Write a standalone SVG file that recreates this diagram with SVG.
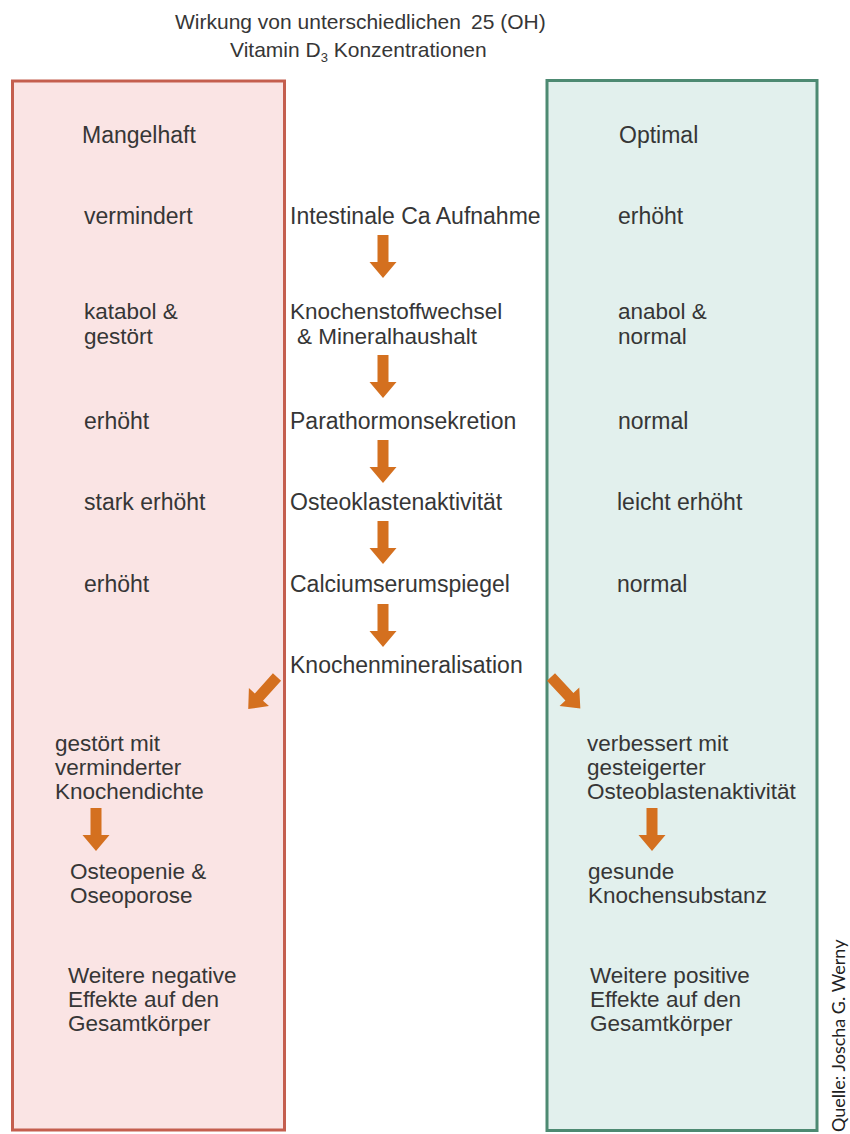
<svg xmlns="http://www.w3.org/2000/svg" xmlns:xlink="http://www.w3.org/1999/xlink" width="850" height="1134" viewBox="0 0 850 1134">
<style>
text{font-family:"Liberation Sans",Arial,sans-serif;fill:#363636;}
.t{font-size:23px;}
.m{font-size:22.5px;}
.h{font-size:21px;}
.src{font-family:Lato,"Open Sans",sans-serif;font-size:18px;fill:#222;}
.arr{fill:#d4701f;}
</style>
<defs>
<path id="down" d="M-5.5,0 H5.5 V27 H13.5 L0,43 L-13.5,27 H-5.5 Z"/>
</defs>
<rect width="850" height="1134" fill="#ffffff"/>
<g id="title">
<text class="h" x="175" y="29">Wirkung von unterschiedlichen</text>
<text class="h" x="471" y="29">25 (OH)</text>
<text class="h" x="230" y="57">Vitamin D<tspan font-size="13" dy="5">3</tspan><tspan dy="-5"> Konzentrationen</tspan></text>
</g>
<g id="box-mangelhaft">
<rect x="12.5" y="81" width="272" height="1049" fill="#fae4e4" stroke="#c45e4e" stroke-width="3"/>
</g>
<g id="box-optimal">
<rect x="547" y="80.5" width="270" height="1050" fill="#e2f0ed" stroke="#4d8a72" stroke-width="3"/>
</g>
<g id="left-column">
<text class="t" x="82" y="143">Mangelhaft</text>
<text class="t" x="84" y="224">vermindert</text>
<text class="m" x="84" y="319">katabol &amp;</text>
<text class="m" x="84" y="344">gestört</text>
<text class="t" x="84" y="429">erhöht</text>
<text class="t" x="84" y="510">stark erhöht</text>
<text class="t" x="84" y="592">erhöht</text>
</g>
<g id="right-column">
<text class="t" x="619" y="143">Optimal</text>
<text class="t" x="618" y="224">erhöht</text>
<text class="m" x="618" y="319">anabol &amp;</text>
<text class="m" x="618" y="344">normal</text>
<text class="t" x="618" y="429">normal</text>
<text class="t" x="617" y="510">leicht erhöht</text>
<text class="t" x="617" y="592">normal</text>
</g>
<g id="center-column">
<text class="t" x="290" y="224">Intestinale Ca Aufnahme</text>
<text class="m" x="290" y="319">Knochenstoffwechsel</text>
<text class="m" x="297" y="344">&amp; Mineralhaushalt</text>
<text class="t" x="290" y="429">Parathormonsekretion</text>
<text class="t" x="290" y="510">Osteoklastenaktivität</text>
<text class="t" x="290" y="592">Calciumserumspiegel</text>
<text class="t" x="290" y="673">Knochenmineralisation</text>
</g>
<g id="left-outcome">
<text class="m" x="55" y="751">gestört mit</text>
<text class="m" x="55" y="775">verminderter</text>
<text class="m" x="55" y="799">Knochendichte</text>
<text class="m" x="70" y="879">Osteopenie &amp;</text>
<text class="m" x="70" y="903">Oseoporose</text>
<text class="m" x="68" y="983">Weitere negative</text>
<text class="m" x="68" y="1007">Effekte auf den</text>
<text class="m" x="68" y="1031">Gesamtkörper</text>
</g>
<g id="right-outcome">
<text class="m" x="587" y="751">verbessert mit</text>
<text class="m" x="587" y="775">gesteigerter</text>
<text class="m" x="587" y="799">Osteoblastenaktivität</text>
<text class="m" x="588" y="879">gesunde</text>
<text class="m" x="588" y="903">Knochensubstanz</text>
<text class="m" x="590" y="983">Weitere positive</text>
<text class="m" x="590" y="1007">Effekte auf den</text>
<text class="m" x="590" y="1031">Gesamtkörper</text>
</g>
<g id="connectors" class="arr">
<use xlink:href="#down" transform="translate(383,235)"/>
<use xlink:href="#down" transform="translate(383,355)"/>
<use xlink:href="#down" transform="translate(383,440)"/>
<use xlink:href="#down" transform="translate(383,521)"/>
<use xlink:href="#down" transform="translate(383,604)"/>
<use xlink:href="#down" transform="translate(277,677) rotate(42)"/>
<use xlink:href="#down" transform="translate(551,677) rotate(-43)"/>
<use xlink:href="#down" transform="translate(96,808)"/>
<use xlink:href="#down" transform="translate(652,808)"/>
</g>
<g id="source">
<text class="src" transform="translate(845,1132) rotate(-90)">Quelle: Joscha G. Werny</text>
</g>
</svg>
